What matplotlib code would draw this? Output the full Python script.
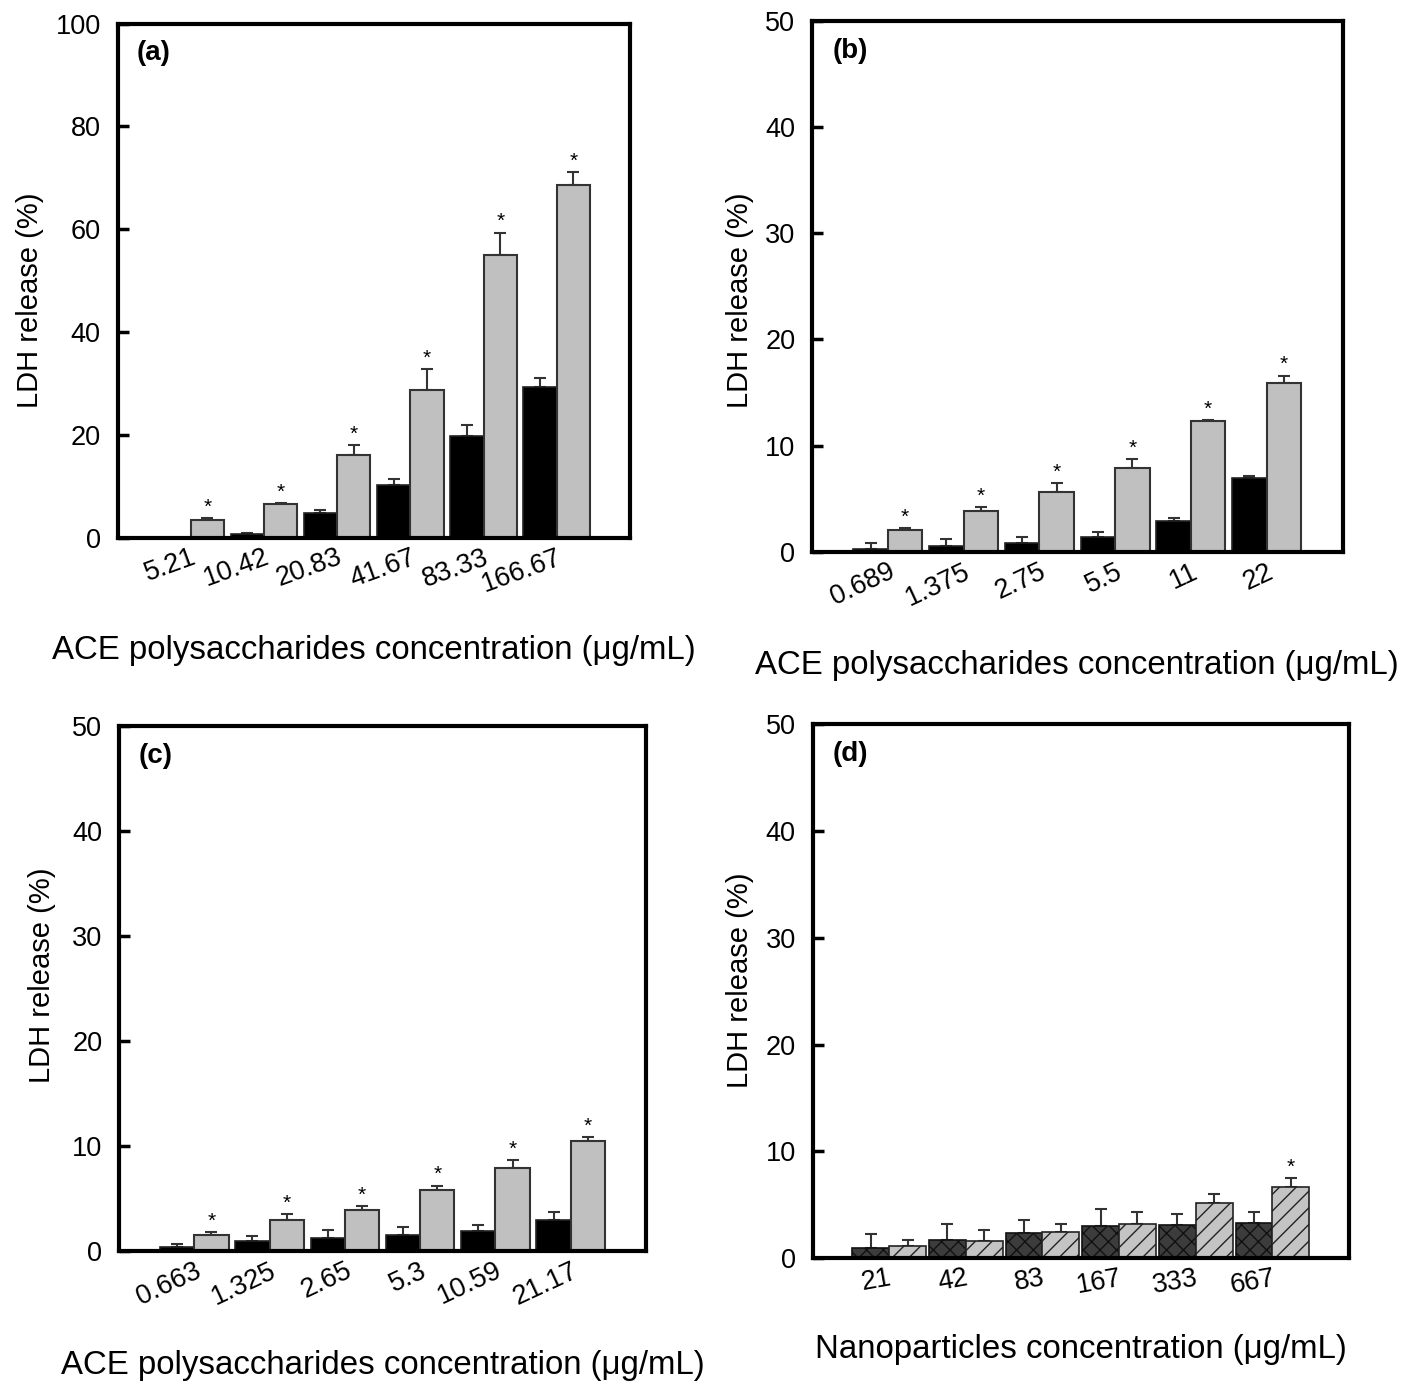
import matplotlib
matplotlib.use("Agg")
import matplotlib.pyplot as plt
import numpy as np

plt.rcParams['font.family'] = ['Liberation Sans', 'DejaVu Sans']
plt.rcParams['hatch.linewidth'] = 1.0

# ---------------- data ----------------
labels_a = ["5.21", "10.42", "20.83", "41.67", "83.33", "166.67"]
black_a = [0.0, 0.6, 4.75, 10.2, 19.8, 29.2]
black_a_err = [0.0, 0.2, 0.55, 1.2, 2.0, 1.8]
gray_a = [3.4, 6.5, 16.1, 28.65, 55.0, 68.6]
gray_a_err = [0.3, 0.2, 1.8, 4.05, 4.3, 2.5]
star_a = [1, 1, 1, 1, 1, 1]

labels_b = ["0.689", "1.375", "2.75", "5.5", "11", "22"]
black_b = [0.25, 0.57, 0.86, 1.43, 2.86, 6.9]
black_b_err = [0.55, 0.6, 0.57, 0.45, 0.34, 0.2]
gray_b = [2.07, 3.85, 5.59, 7.88, 12.29, 15.9]
gray_b_err = [0.13, 0.35, 0.86, 0.88, 0.09, 0.7]
star_b = [1, 1, 1, 1, 1, 1]

labels_c = ["0.663", "1.325", "2.65", "5.3", "10.59", "21.17"]
black_c = [0.32, 0.9, 1.24, 1.53, 1.85, 2.9]
black_c_err = [0.35, 0.53, 0.71, 0.76, 0.57, 0.77]
gray_c = [1.53, 2.93, 3.86, 5.77, 7.9, 10.48]
gray_c_err = [0.26, 0.55, 0.38, 0.44, 0.7, 0.32]
star_c = [1, 1, 1, 1, 1, 1]

labels_d = ["21", "42", "83", "167", "333", "667"]
dark_d = [1.0, 1.67, 2.37, 3.03, 3.12, 3.34]
dark_d_err = [1.27, 1.51, 1.19, 1.54, 1.05, 1.02]
light_d = [1.14, 1.64, 2.46, 3.18, 5.14, 6.69]
light_d_err = [0.59, 1.04, 0.72, 1.18, 0.92, 0.85]
star_d = [0, 0, 0, 0, 0, 1]

xlabel_ace = "ACE polysaccharides concentration (\u03bcg/mL)"
xlabel_np = "Nanoparticles concentration (\u03bcg/mL)"
ylabel = "LDH release (%)"

# ---------------- figure ----------------
W, H = 1419, 1382
fig = plt.figure(figsize=(W / 100, H / 100), dpi=100)


def px_axes(l, t, r, b):
    return fig.add_axes([l / W, 1 - b / H, (r - l) / W, (b - t) / H])


def panel(ax, tag, labels, v1, e1, v2, e2, stars, ymax, ystep, rot,
          width, style1, style2, xl, xl_y, yl_x, yl_y):
    x = np.arange(len(labels))
    ax.bar(x - width / 2, v1, width, **style1, zorder=2)
    ax.bar(x + width / 2, v2, width, **style2, zorder=2)
    ekw = dict(fmt='none', ecolor='#333333', elinewidth=1.5, capsize=4.5,
               capthick=1.5, zorder=1)
    ax.errorbar(x - width / 2, v1, yerr=[np.zeros(len(v1)), e1], **ekw)
    ax.errorbar(x + width / 2, v2, yerr=[np.zeros(len(v2)), e2], **ekw)
    for xi, v, e, s in zip(x, v2, e2, stars):
        if s:
            ax.annotate('*', xy=(xi + width / 2, v + e), xytext=(0, 1),
                        textcoords='offset points', ha='center', va='bottom',
                        fontsize=15)
    ax.set_xlim(-1, 6)
    ax.set_ylim(0, ymax)
    ax.set_yticks(np.arange(0, ymax + 0.1, ystep))
    ax.set_xticks(x)
    ax.set_xticklabels(labels)
    ax.tick_params(axis='x', length=0, pad=5, labelsize=19.5)
    ax.tick_params(axis='y', direction='in', length=8, width=2.5, pad=12,
                   labelsize=19.5)
    for lab in ax.get_xticklabels():
        lab.set_rotation(rot)
        lab.set_ha('right')
        lab.set_rotation_mode('anchor')
    for sp in ax.spines.values():
        sp.set_linewidth(3)
    ax.set_xlabel(xl, fontsize=23.8, va='center')
    ax.xaxis.set_label_coords(0.5, xl_y)
    ax.set_ylabel(ylabel, fontsize=21, va='center', ha='center')
    ax.yaxis.set_label_coords(yl_x, yl_y)
    ax.text(0.038, 0.968, tag, transform=ax.transAxes, fontsize=20,
            fontweight='bold', ha='left', va='top')


solid_black = dict(color='black', edgecolor='#222222', linewidth=1.2)
solid_gray = dict(color='#c0c0c0', edgecolor='#333333', linewidth=1.5)
hatch_dark = dict(color='#3c3c3c', edgecolor='#111111', linewidth=1.2,
                  hatch='xx')
hatch_light = dict(color='#c4c4c4', edgecolor='#222222', linewidth=1.2,
                   hatch='//')

ax_a = px_axes(117.5, 23.5, 630, 537.5)
panel(ax_a, '(a)', labels_a, black_a, black_a_err, gray_a, gray_a_err,
      star_a, 100, 20, 20, 0.455, solid_black, solid_gray, xlabel_ace,
      -0.219, -0.171, 0.462)

ax_b = px_axes(812, 21, 1342.5, 551.7)
panel(ax_b, '(b)', labels_b, black_b, black_b_err, gray_b, gray_b_err,
      star_b, 50, 10, 25, 0.455, solid_black, solid_gray, xlabel_ace,
      -0.2135, -0.136, 0.474)

ax_c = px_axes(119, 726, 646, 1250.7)
panel(ax_c, '(c)', labels_c, black_c, black_c_err, gray_c, gray_c_err,
      star_c, 50, 10, 25, 0.455, solid_black, solid_gray, xlabel_ace,
      -0.218, -0.146, 0.525)

ax_d = px_axes(812.5, 724, 1349, 1258.3)
panel(ax_d, '(d)', labels_d, dark_d, dark_d_err, light_d, light_d_err,
      star_d, 50, 10, 10, 0.48, hatch_dark, hatch_light, xlabel_np,
      -0.1716, -0.135, 0.521)

fig.savefig("out.png", dpi=100)
